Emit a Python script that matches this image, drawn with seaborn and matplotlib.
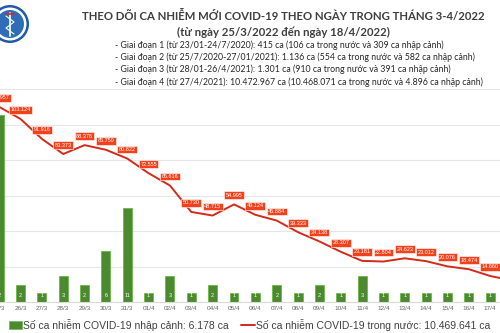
import numpy as np
import pandas as pd
import matplotlib
matplotlib.use("Agg")
import matplotlib.pyplot as plt
import seaborn as sns
from matplotlib.patches import Rectangle, Circle
from matplotlib.lines import Line2D

# ---------------- data ----------------
dates = ["25/3", "26/3", "27/3", "28/3", "29/3", "30/3", "31/3",
         "01/4", "02/4", "03/4", "04/4", "05/4", "06/4", "07/4", "08/4",
         "09/4", "10/4", "11/4", "12/4", "13/4", "14/4", "15/4", "16/4",
         "17/4", "18/4"]
imported = [22, 2, 1, 3, 2, 6, 11, 1, 3, 1, 2, 1, 1, 2, 1, 2, 1, 3,
            1, 1, 1, 1, 1, 1, 1]
domestic = [109957, 103124, 91916, 83373, 88376, 85759, 80822, 72555,
            65616, 50730, 48715, 54995, 49124, 45884, 39333, 34138,
            28307, 23181, 22804, 24623, 23012, 20076, 18474, 14660, 12200]

title = "THEO DÕI CA NHIỄM MỚI COVID-19 THEO NGÀY TRONG THÁNG 3-4/2022"
subtitle = "(từ ngày 25/3/2022 đến ngày 18/4/2022)"
notes = [
    "- Giai đoạn 1 (từ 23/01-24/7/2020): 415 ca (106 ca trong nước và 309 ca nhập cảnh)",
    "- Giai đoạn 2 (từ 25/7/2020-27/01/2021): 1.136 ca (554 ca trong nước và 582 ca nhập cảnh)",
    "- Giai đoạn 3 (từ 28/01-26/4/2021): 1.301 ca (910 ca trong nước và 391 ca nhập cảnh)",
    "- Giai đoạn 4 (từ 27/4/2021): 10.472.967 ca (10.468.071 ca trong nước và 4.896 ca nhập cảnh)",
]
legend_bar = "Số ca nhiễm COVID-19 nhập cảnh: 6.178 ca"
legend_line = "Số ca nhiễm COVID-19 trong nước: 10.469.641 ca"

df = pd.DataFrame({"date": dates, "imported": imported,
                   "domestic": domestic, "pos": np.arange(len(dates))})

def vn(n):
    return f"{n:,}".replace(",", ".")

# ---------------- figure ----------------
sns.set_theme(style="white")
plt.rcParams["font.family"] = ["Liberation Sans", "DejaVu Sans"]

W, H = 500, 333
fig = plt.figure(figsize=(W / 100, H / 100), dpi=100)
fig.patch.set_facecolor("white")

bar_green = "#4C8A2F"
line_red = "#D42A1C"
label_red = "#F2411B"

ax = fig.add_axes([-11.5 / W, (H - 302) / H, 533.7 / W, 213 / H])
ax.set_facecolor("none")
sns.barplot(data=df, x="date", y="imported", ax=ax, color=bar_green,
            width=0.42, edgecolor="#6CB84A", linewidth=0.6, saturation=1,
            zorder=2)
ax.set_xlim(-0.5, len(dates) - 0.5)
ax.set_ylim(0, 25)
ax.set_yticks(np.linspace(0, 25, 7))
ax.yaxis.grid(True, color="#E6E6E6", linewidth=0.8, zorder=0)
ax.set_axisbelow(True)
ax.set_yticklabels([])
ax.tick_params(axis="y", length=0)
ax.tick_params(axis="x", length=0, pad=3, labelsize=4.6, labelcolor="#666666")
ax.set_xlabel("")
ax.set_ylabel("")
for s in ["top", "left", "right"]:
    ax.spines[s].set_visible(False)
ax.spines["bottom"].set_color("#D9D9D9")
ax.spines["bottom"].set_linewidth(0.8)

for i, v in enumerate(imported):
    ax.text(i, 0.72, str(v), ha="center", va="center", fontsize=4,
            color="white", zorder=5)

ax2 = ax.twinx()
ax2.set_facecolor("none")
sns.lineplot(data=df, x="pos", y="domestic", ax=ax2, color=line_red,
             linewidth=1.4, zorder=3)
ax2.set_ylim(0, 120000)
ax2.set_xlim(-0.5, len(dates) - 0.5)
ax2.set_yticks([])
ax2.set_xlabel("")
ax2.set_ylabel("")
for s in ax2.spines.values():
    s.set_visible(False)

for i, v in enumerate(domestic):
    ax2.annotate(vn(v), (i, v), xytext=(0, 9), textcoords="offset pixels",
                 ha="center", va="center", fontsize=4, color="white",
                 bbox=dict(boxstyle="square,pad=0.25", fc=label_red,
                           ec="white", lw=0.4), zorder=6)

# ---------------- overlay (titles, legend, logo) ----------------
ov = fig.add_axes([0, 0, 1, 1])
ov.set_xlim(0, W)
ov.set_ylim(H, 0)
ov.axis("off")
ov.patch.set_alpha(0)

ov.text(283, 16, title, ha="center", va="center", fontsize=8.2,
        fontweight="bold", color="#3F3F3F", family=["Lato", "DejaVu Sans"])
ov.text(283, 32, subtitle, ha="center", va="center", fontsize=8.2,
        fontweight="bold", color="#3F3F3F", family=["Lato", "DejaVu Sans"])
for k, t in enumerate(notes):
    ov.text(115, 45 + k * 12.3, t, ha="left", va="center", fontsize=6.3,
            color="#262626", family=["Lato", "DejaVu Sans"])

# logo (simplified emblem)
ov.add_patch(Circle((10, 24), 19, fc="#1E5AA8", ec="none"))
ov.add_patch(Circle((10, 24), 16.5, fc="white", ec="none"))
ov.add_patch(Circle((10, 24), 14, fc="#2F6DB8", ec="none"))
ov.plot([10, 10], [13, 36], color="white", lw=1.2)
ov.plot([6, 14, 6, 14], [16, 22, 28, 34], color="white", lw=0.8)
ov.plot([6, 14], [14, 14], color="#D7261E", lw=1.2)

# legend
ov.add_patch(Rectangle((9, 321), 13, 8, fc=bar_green, ec="#6CB84A", lw=0.5))
ov.text(23, 325, legend_bar, ha="left", va="center", fontsize=7.5,
        color="#404040")
ov.add_line(Line2D([241, 255], [325, 325], color=line_red, lw=1.4))
ov.text(256, 325, legend_line, ha="left", va="center", fontsize=7.5,
        color="#404040")

fig.savefig("out.png", dpi=100, facecolor="white")
